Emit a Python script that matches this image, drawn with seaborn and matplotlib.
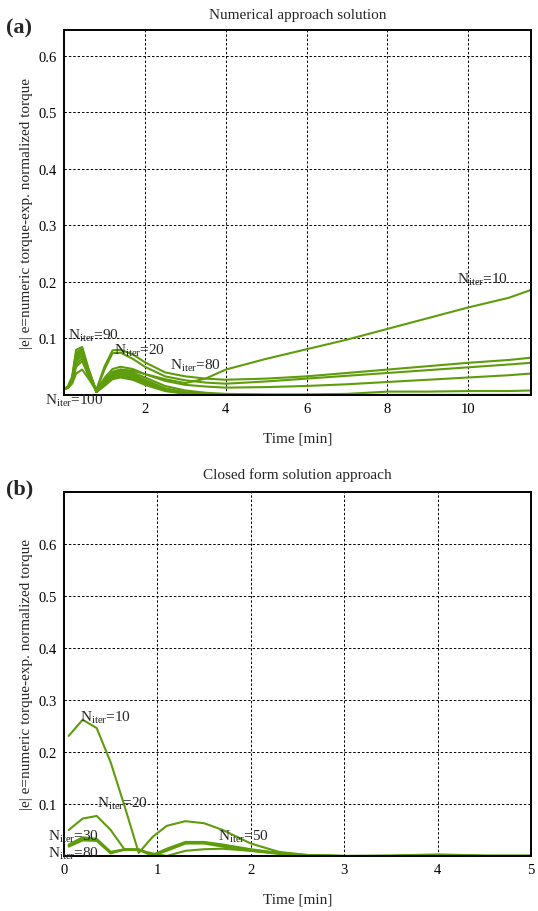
import numpy as np
import pandas as pd
import matplotlib
matplotlib.use("Agg")
import matplotlib.pyplot as plt
import seaborn as sns

# ---------------- data ----------------
t_a = [0, 0.1, 0.2, 0.3, 0.45, 0.6, 0.8, 1.0, 1.2, 1.4, 1.7, 2.0, 2.5, 3.0,
       3.5, 4, 5, 6, 7, 8, 9, 10, 11, 11.55]
a_n10 = [0.010, 0.013, 0.020, 0.038, 0.045, 0.030, 0.008, 0.025, 0.040, 0.045, 0.043, 0.037,
         0.028, 0.021, 0.029, 0.045, 0.064, 0.081, 0.098, 0.117, 0.136, 0.155, 0.172, 0.186]
a_n20 = [0.010, 0.014, 0.025, 0.060, 0.070, 0.040, 0.009, 0.050, 0.079, 0.080, 0.072, 0.058,
         0.040, 0.033, 0.029, 0.027, 0.029, 0.033, 0.039, 0.045, 0.051, 0.057, 0.062, 0.066]
a_n30 = [0.010, 0.014, 0.026, 0.065, 0.075, 0.042, 0.008, 0.045, 0.074, 0.075, 0.064, 0.050,
         0.033, 0.026, 0.022, 0.020, 0.024, 0.029, 0.034, 0.039, 0.044, 0.049, 0.054, 0.057]
a_n40 = [0.010, 0.013, 0.024, 0.055, 0.065, 0.038, 0.007, 0.030, 0.046, 0.050, 0.046, 0.037,
         0.025, 0.018, 0.015, 0.013, 0.014, 0.016, 0.019, 0.023, 0.027, 0.031, 0.035, 0.038]
a_n50 = [0.010, 0.013, 0.022, 0.050, 0.060, 0.035, 0.006, 0.026, 0.041, 0.045, 0.040, 0.031,
         0.016, 0.008, 0.004, 0.002, 0.001, 0.001, 0.002, 0.006, 0.006, 0.007, 0.007, 0.008]
a_n60 = [0.010, 0.014, 0.028, 0.072, 0.080, 0.045, 0.007, 0.024, 0.038, 0.042, 0.037, 0.027,
         0.012, 0.005, 0.002, 0.001, 0.0, 0.0, 0.0, 0.0, 0.0, 0.0, 0.0, 0.0]
a_n70 = [0.010, 0.015, 0.030, 0.075, 0.082, 0.046, 0.006, 0.022, 0.035, 0.039, 0.034, 0.024,
         0.010, 0.004, 0.001, 0.0, 0.0, 0.0, 0.0, 0.0, 0.0, 0.0, 0.0, 0.0]
a_n80 = [0.010, 0.014, 0.027, 0.068, 0.078, 0.044, 0.006, 0.020, 0.033, 0.036, 0.031, 0.022,
         0.009, 0.003, 0.001, 0.0, 0.0, 0.0, 0.0, 0.0, 0.0, 0.0, 0.0, 0.0]
a_n90 = [0.010, 0.016, 0.032, 0.080, 0.085, 0.048, 0.005, 0.018, 0.030, 0.033, 0.029, 0.020,
         0.008, 0.003, 0.001, 0.0, 0.0, 0.0, 0.0, 0.0, 0.0, 0.0, 0.0, 0.0]
a_n100 = [0.010, 0.013, 0.025, 0.062, 0.070, 0.040, 0.005, 0.016, 0.028, 0.031, 0.027, 0.018,
          0.007, 0.002, 0.0, 0.0, 0.0, 0.0, 0.0, 0.0, 0.0, 0.0, 0.0, 0.0]

t_b = [0.05, 0.2, 0.35, 0.5, 0.65, 0.8, 0.95, 1.1, 1.3, 1.5, 1.7, 2.0, 2.3, 2.6, 3.0,
       3.5, 4.0, 4.5, 5.0]
b_n10 = [0.231, 0.262, 0.246, 0.180, 0.095, 0.006, 0.037, 0.058, 0.067, 0.063, 0.050, 0.024,
         0.008, 0.002, 0.0, 0.001, 0.003, 0.001, 0.001]
b_n20 = [0.050, 0.072, 0.077, 0.050, 0.012, 0.012, 0.001, 0.010, 0.024, 0.024, 0.018, 0.010,
         0.004, 0.001, 0.0, 0.0, 0.001, 0.0, 0.0]
b_n30 = [0.022, 0.036, 0.033, 0.008, 0.013, 0.013, 0.002, 0.014, 0.027, 0.027, 0.022, 0.013,
         0.006, 0.002, 0.0, 0.0, 0.001, 0.0, 0.0]
b_n50 = [0.020, 0.033, 0.031, 0.006, 0.012, 0.012, 0.0, 0.012, 0.025, 0.026, 0.021, 0.012,
         0.005, 0.001, 0.0, 0.0, 0.001, 0.0, 0.0]
b_n80 = [0.018, 0.030, 0.029, 0.005, 0.013, 0.011, 0.005, 0.0, 0.010, 0.013, 0.014, 0.010,
         0.005, 0.001, 0.0, 0.0, 0.0, 0.0, 0.0]

series_a = {10: a_n10, 20: a_n20, 30: a_n30, 40: a_n40, 50: a_n50,
            60: a_n60, 70: a_n70, 80: a_n80, 90: a_n90, 100: a_n100}
series_b = {10: b_n10, 20: b_n20, 30: b_n30, 50: b_n50, 80: b_n80}

xticks_a = [2, 4, 6, 8, 10]
yticks_a = [0.1, 0.2, 0.3, 0.4, 0.5, 0.6]
xticks_b = [0, 1, 2, 3, 4, 5]
yticks_b = [0.1, 0.2, 0.3, 0.4, 0.5, 0.6]

labels_a = [("90", 0.1, 0.107), ("20", 1.23, 0.08), ("80", 2.63, 0.054),
            ("100", -0.47, -0.008), ("10", 9.73, 0.205)]
labels_b = [("10", 0.17, 0.267), ("20", 0.35, 0.102), ("30", -0.17, 0.038),
            ("80", -0.17, 0.006), ("50", 1.65, 0.038)]

# ---------------- style ----------------
sns.set_theme(style="white")
plt.rcParams["font.family"] = ["Liberation Serif", "DejaVu Serif"]
plt.rcParams["mathtext.fontset"] = "custom"
plt.rcParams["mathtext.rm"] = "Liberation Serif"
plt.rcParams["mathtext.it"] = "Liberation Serif:italic"

GREEN = "#5e9c0c"
fig = plt.figure(figsize=(5.38, 9.12), dpi=100)
W, H = 538, 912
ax_a = fig.add_axes([64 / W, 1 - 396 / H, (531 - 64) / W, (396 - 31) / H])
ax_b = fig.add_axes([64 / W, 1 - 857 / H, (531 - 64) / W, (857 - 493) / H])


def long_df(t, series):
    rows = []
    for n, vals in series.items():
        for x, v in zip(t, vals):
            rows.append({"t": x, "e": v, "N": n})
    return pd.DataFrame(rows)


def style_ax(ax, xlim, ylim, xticks, yticks, title, title_pad):
    ax.set_xlim(*xlim)
    ax.set_ylim(*ylim)
    ax.set_xticks(xticks)
    ax.set_yticks(yticks)
    ax.set_xticklabels([f"{v:g}" for v in xticks], fontsize=10.5)
    ax.set_yticklabels([f"{v:g}" for v in yticks], fontsize=10.5)
    ax.grid(True, color="black", linestyle=(0, (2.5, 2)), linewidth=0.7)
    for s in ax.spines.values():
        s.set_color("black")
        s.set_linewidth(1.4)
        s.set_visible(True)
    ax.tick_params(direction="in", length=3, width=0.8, colors="black", pad=5)
    ax.set_xlabel("Time [min]", fontsize=11, labelpad=12)
    ax.set_ylabel("|e| e=numeric torque-exp. normalized torque", fontsize=11, labelpad=4)
    ax.set_title(title, fontsize=11, pad=title_pad)


df_a = long_df(t_a, series_a)
sns.lineplot(data=df_a, x="t", y="e", hue="N", palette={n: GREEN for n in series_a},
             estimator=None, sort=False, legend=False, linewidth=1.5, ax=ax_a)
style_ax(ax_a, (0, 11.55), (0, 0.646), xticks_a, yticks_a, "Numerical approach solution", 9)
for n, x, y in labels_a:
    ax_a.text(x, y, r"N$_{\mathrm{iter}}$=" + n, fontsize=11, va="center", ha="left",
              clip_on=False)

df_b = long_df(t_b, series_b)
sns.lineplot(data=df_b, x="t", y="e", hue="N", palette={n: GREEN for n in series_b},
             estimator=None, sort=False, legend=False, linewidth=1.5, ax=ax_b)
style_ax(ax_b, (0, 5), (0, 0.7), xticks_b, yticks_b, "Closed form solution approach", 10)
for n, x, y in labels_b:
    ax_b.text(x, y, r"N$_{\mathrm{iter}}$=" + n, fontsize=11, va="center", ha="left",
              clip_on=False)

fig.text(6 / W, 1 - 28 / H, "(a)", fontsize=16, fontweight="bold", va="center", ha="left")
fig.text(6 / W, 1 - 489 / H, "(b)", fontsize=16, fontweight="bold", va="center", ha="left")

fig.savefig("out.png", dpi=100)
